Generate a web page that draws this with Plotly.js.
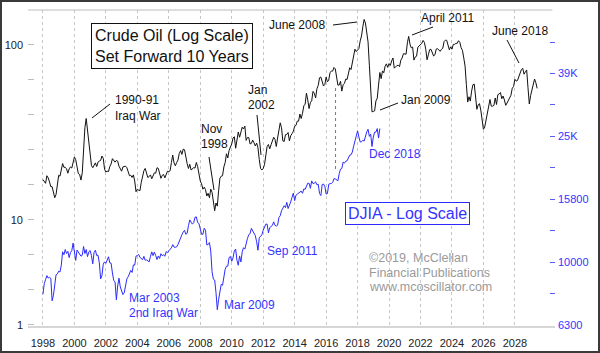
<!DOCTYPE html>
<html>
<head>
<meta charset="utf-8">
<script src="https://cdn.plot.ly/plotly-3.0.1.min.js"></script>
<style>
  html, body { margin: 0; padding: 0; background: #fff; }
  #wrap { position: relative; width: 600px; height: 353px; }
  #chart { width: 600px; height: 353px; }
  #frame { position: absolute; left: 0; top: 0; width: 600px; height: 353px; box-sizing: border-box; border: 2px solid #3a3a3a; pointer-events: none; }
</style>
</head>
<body>
<div id="wrap"><div id="chart"></div><div id="frame"></div></div>
<script>
// ---------------- DATA ----------------
// Crude oil (monthly, $/bbl), starting Jan 1988, plotted 10 years forward
const oilStartYear = 1988;
const oilShiftYears = 10;
const oilPrice = [
  17.0, 16.7, 16.2, 17.9, 17.4, 16.5, 15.5, 15.5, 14.5, 13.4, 14.0, 16.3, // 1988
  18.0, 17.8, 19.4, 21.0, 20.0, 20.0, 19.6, 18.5, 19.6, 20.1, 19.8, 21.1, // 1989
  22.9, 22.1, 20.4, 18.4, 18.2, 16.9, 18.6, 27.2, 33.7, 38.0, 32.3, 27.3, // 1990
  25.2, 20.5, 19.9, 20.8, 21.2, 20.2, 21.4, 21.7, 21.9, 23.2, 22.5, 19.5, // 1991
  18.8, 19.0, 18.9, 20.2, 20.9, 22.4, 21.8, 21.4, 21.9, 21.7, 20.3, 19.4, // 1992
  19.0, 20.1, 20.3, 20.3, 19.9, 19.1, 17.9, 18.0, 17.5, 18.1, 16.7, 14.5, // 1993
  15.0, 14.8, 14.7, 16.4, 17.9, 19.1, 19.7, 18.4, 17.5, 17.7, 18.1, 17.2, // 1994
  18.0, 18.6, 18.5, 19.9, 19.7, 18.5, 17.3, 18.0, 18.2, 17.4, 18.0, 19.0, // 1995
  18.9, 19.1, 21.3, 23.5, 21.2, 20.4, 21.3, 22.0, 24.0, 24.9, 23.7, 25.4, // 1996
  25.2, 22.2, 21.0, 19.7, 20.8, 19.3, 19.7, 19.9, 19.8, 21.3, 20.2, 18.3, // 1997
  16.7, 16.1, 15.0, 15.4, 14.9, 13.7, 14.2, 13.4, 15.0, 14.4, 12.9, 11.3, // 1998
  12.5, 12.0, 14.7, 17.3, 17.8, 17.9, 20.1, 21.3, 23.9, 22.6, 25.0, 26.1, // 1999
  27.2, 29.4, 29.9, 25.7, 28.8, 31.8, 29.7, 31.3, 33.9, 33.1, 34.4, 28.5, // 2000
  29.6, 29.6, 27.2, 27.4, 28.6, 27.6, 26.5, 27.5, 25.9, 22.2, 19.7, 19.3, // 2001
  19.7, 20.7, 24.4, 26.3, 27.0, 25.5, 26.9, 28.4, 29.7, 28.9, 26.3, 29.4, // 2002
  32.9, 35.9, 33.6, 28.3, 28.1, 30.7, 30.8, 31.6, 28.3, 30.3, 31.1, 32.1, // 2003
  34.3, 34.7, 36.7, 36.7, 40.3, 38.0, 40.7, 44.9, 45.9, 53.1, 48.5, 43.3, // 2004
  46.8, 48.0, 54.3, 53.0, 49.8, 56.3, 58.7, 65.0, 65.6, 62.4, 58.3, 59.4, // 2005
  65.5, 61.6, 62.9, 69.7, 70.9, 70.9, 74.4, 73.0, 63.8, 58.9, 59.1, 62.0, // 2006
  54.5, 59.3, 60.4, 63.9, 63.5, 67.5, 74.1, 72.4, 79.9, 86.2, 94.6, 91.7, // 2007
  93.0, 95.4, 105.5, 112.6, 127.0, 140.0, 133.4, 116.7, 104.1, 76.6, 57.3, 41.5, // 2008
  41.7, 42.0, 47.9, 49.6, 59.0, 69.6, 64.2, 71.1, 69.4, 75.7, 78.0, 74.5, // 2009
  78.3, 76.4, 81.2, 84.3, 73.7, 75.3, 76.3, 76.6, 75.2, 81.9, 84.3, 89.2, // 2010
  89.2, 88.6, 102.9, 112.0, 100.9, 96.3, 97.3, 82.0, 85.5, 86.3, 97.2, 98.6, // 2011
  100.3, 102.2, 106.2, 103.3, 94.7, 82.3, 87.9, 94.1, 94.5, 89.5, 86.5, 87.9, // 2012
  94.8, 95.3, 92.9, 92.0, 94.5, 95.8, 104.6, 106.6, 106.3, 100.5, 93.9, 97.6, // 2013
  94.6, 100.8, 100.8, 102.1, 102.2, 105.8, 103.6, 96.5, 93.2, 84.4, 75.8, 59.3, // 2014
  47.2, 50.6, 47.8, 54.5, 59.3, 59.8, 50.9, 42.9, 45.5, 46.2, 42.4, 37.2, // 2015
  33.0, 34.0, 37.5, 40.8, 46.7, 48.8, 44.7, 44.7, 45.2, 49.8, 45.7, 52.0, // 2016
  52.5, 53.5, 49.3, 51.1, 48.5, 45.2, 46.6, 48.0, 49.8, 51.6, 56.6, 57.9, // 2017
  63.7, 62.2, 62.7, 66.3, 70.0, 72.5, 73.5, 68.1, 70.2, 72.0, 57.0, 46.0, // 2018
  51.4, 55.0, 58.2, 63.9, 60.8, 56.5                                      // 2019
];

// DJIA monthly closes starting Jan 1998 (not shifted)
const djiaStartYear = 1998;
const djiaClose = [
  7907, 8546, 8800, 9063, 8900, 8952, 8883, 7539, 7843, 8592, 9117, 9181,         // 1998
  9359, 9307, 9786, 10789, 10560, 10971, 10655, 10829, 10337, 10730, 10878, 11497, // 1999
  10941, 10128, 10922, 10734, 10522, 10448, 10522, 11215, 10651, 10971, 10415, 10788, // 2000
  10887, 10495, 9879, 10735, 10912, 10502, 10523, 9950, 8848, 9075, 9852, 10022,  // 2001
  9920, 10106, 10404, 9946, 9925, 9243, 8737, 8664, 7592, 8397, 8896, 8342,       // 2002
  8054, 7891, 7992, 8480, 8850, 8985, 9234, 9416, 9275, 9801, 9782, 10454,        // 2003
  10488, 10584, 10358, 10226, 10188, 10435, 10140, 10174, 10080, 10027, 10428, 10783, // 2004
  10490, 10766, 10504, 10193, 10467, 10275, 10641, 10482, 10569, 10440, 10806, 10718, // 2005
  10865, 10993, 11109, 11367, 11168, 11150, 11186, 11381, 11679, 12081, 12222, 12463, // 2006
  12622, 12269, 12354, 13063, 13628, 13409, 13212, 13358, 13896, 13930, 13372, 13265, // 2007
  12650, 12266, 12263, 12820, 12638, 11350, 11378, 11544, 10851, 9325, 8829, 8776, // 2008
  8001, 7063, 7609, 8168, 8500, 8447, 9172, 9496, 9712, 9713, 10345, 10428,       // 2009
  10067, 10325, 10857, 11009, 10137, 9774, 10466, 10015, 10788, 11118, 11006, 11578, // 2010
  11892, 12226, 12320, 12811, 12570, 12414, 12143, 11614, 10913, 11955, 12046, 12218, // 2011
  12633, 12952, 13212, 13214, 12393, 12880, 13009, 13091, 13437, 13096, 13026, 13104, // 2012
  13861, 14054, 14579, 14840, 15116, 14910, 15500, 14810, 15130, 15546, 16086, 16577, // 2013
  15699, 16322, 16458, 16581, 16717, 16827, 16563, 17098, 17043, 17391, 17828, 17823, // 2014
  17165, 18133, 17776, 17841, 18011, 17620, 17690, 16528, 16285, 17664, 17720, 17425, // 2015
  16466, 16517, 17685, 17774, 17787, 17930, 18432, 18401, 18308, 18142, 19124, 19763, // 2016
  19864, 20812, 20663, 20941, 21009, 21350, 21891, 21948, 22405, 23377, 24272, 24719, // 2017
  26149, 25029, 24103, 24163, 24416, 24271, 25415, 25965, 26458, 25116, 25538, 23327, // 2018
  24999, 25916, 25929, 26593, 24815, 26600                                         // 2019
];

// Axis ticks
const xTickYears = [1998, 2000, 2002, 2004, 2006, 2008, 2010, 2012, 2014, 2016, 2018, 2020, 2022, 2024, 2026, 2028];
const oilTickExp  = [0.4, 0.6, 0.8, 1.0, 1.2, 1.4, 1.6, 1.8, 2.0];
const oilTickText = ["1", "", "", "10", "", "", "", "", "100"];
const djiaTickExp  = [3.8, 3.9, 4.0, 4.1, 4.2, 4.3, 4.4, 4.5, 4.6, 4.7, 4.8];
const djiaTickText = ["6300", "", "10000", "", "15800", "", "25K", "", "39K", "", ""];

// ---------------- CHART ----------------
const oilX = oilPrice.map((_, i) => oilStartYear + oilShiftYears + i / 12);
const djiaX = djiaClose.map((_, i) => djiaStartYear + i / 12);

const FONT = 'Liberation Sans, Arial, sans-serif';
const BLUE = '#2a2aff';
const BLUE_TXT = '#3434ff';

// plot area in pixels
const L = 28, R = 555, T = 10, B = 326;
const px = x => (x - L) / (R - L);
const py = y => (B - y) / (B - T);

function lbl(text, x, y, color, size, anchor) {
  return { text, xref: 'paper', yref: 'paper', x: px(x), y: py(y), xanchor: anchor || 'left', yanchor: 'middle',
    showarrow: false, align: 'left', font: { family: FONT, size: size || 12, color: color || '#111' } };
}
function seg(x0, y0, x1, y1, color, dash) {
  return { type: 'line', xref: 'paper', yref: 'paper', x0: px(x0), y0: py(y0), x1: px(x1), y1: py(y1),
    line: { color: color || '#111', width: 1, dash: dash || 'solid' } };
}

const traces = [
  { x: oilX, y: oilPrice, type: 'scatter', mode: 'lines', yaxis: 'y', line: { color: '#111', width: 1 }, hoverinfo: 'skip' },
  { x: djiaX, y: djiaClose, type: 'scatter', mode: 'lines', yaxis: 'y2', line: { color: BLUE, width: 1 }, hoverinfo: 'skip' }
];

const annotations = [
  { text: 'Crude Oil (Log Scale)<br>Set Forward 10 Years', xref: 'paper', yref: 'paper', x: px(171.5), y: py(46.5),
    xanchor: 'center', yanchor: 'middle', showarrow: false, align: 'left',
    font: { family: FONT, size: 16, color: '#111' }, bordercolor: '#111', borderwidth: 1, borderpad: 3, bgcolor: '#fff' },
  { text: 'DJIA - Log Scale', xref: 'paper', yref: 'paper', x: px(407.5), y: py(213),
    xanchor: 'center', yanchor: 'middle', showarrow: false,
    font: { family: FONT, size: 16, color: BLUE_TXT }, bordercolor: BLUE, borderwidth: 1, borderpad: 2, bgcolor: '#fff' },
  lbl('©2019, McClellan', 367, 258, '#9a9a9a', 12.5),
  lbl('Financial Publications', 367, 272.5, '#9a9a9a', 12.5),
  lbl('www.mcoscillator.com', 367, 287, '#9a9a9a', 12.5),
  lbl('1990-91', 113, 100),
  lbl('Iraq War', 113, 116),
  lbl('Nov', 199, 129),
  lbl('1998', 199, 144),
  lbl('Jan', 246, 90),
  lbl('2002', 246, 105),
  lbl('June 2008', 267, 25),
  lbl('April 2011', 419, 18),
  lbl('June 2018', 490, 31),
  lbl('Jan 2009', 399, 100),
  lbl('Dec 2018', 367, 154, BLUE_TXT),
  lbl('Mar 2003', 127, 298, BLUE_TXT),
  lbl('2nd Iraq War', 127, 313, BLUE_TXT),
  lbl('Mar 2009', 222, 305, BLUE_TXT),
  lbl('Sep 2011', 265, 251, BLUE_TXT)
];

const shapes = [
  // top frame line of the plot area
  { type: 'line', xref: 'paper', yref: 'paper', x0: 0, x1: 0.995, y0: 1, y1: 1, line: { color: '#bdbdbd', width: 1 } },
  // vertical dotted connector between the two series
  { type: 'line', xref: 'x', yref: 'paper', x0: 2016.6, x1: 2016.6, y0: py(88), y1: py(170), line: { color: '#777', width: 1, dash: 'dot' } },
  seg(92, 118, 110, 104),
  seg(209, 157, 214, 190),
  seg(257, 115, 261, 155),
  seg(333, 25, 357, 22),
  seg(412, 35, 433, 27),
  seg(507, 40, 519, 63),
  seg(380, 110, 398, 103)
];

const layout = {
  width: 600, height: 353,
  margin: { l: L, r: 600 - R, t: T, b: 353 - B },
  paper_bgcolor: '#fff', plot_bgcolor: '#fff',
  showlegend: false,
  xaxis: {
    range: [1997.05, 2030.55], tickmode: 'array', tickvals: xTickYears, ticktext: xTickYears.map(String),
    showgrid: true, gridcolor: '#c6c6c6', griddash: 'dot', gridwidth: 1,
    zeroline: false, showline: true, linecolor: '#d6d6d6', linewidth: 2, ticks: '',
    tickfont: { family: FONT, size: 11, color: '#222' }, ticklabelstandoff: 6
  },
  yaxis: {
    type: 'log', range: [0.394, 2.2], tickmode: 'array',
    tickvals: oilTickExp.map(e => Math.pow(10, e)), ticktext: oilTickText,
    ticks: 'inside', ticklen: 6, tickcolor: '#bbbbbb', tickwidth: 1,
    showgrid: false, zeroline: false, showline: false,
    tickfont: { family: FONT, size: 11, color: '#222' }, ticklabelstandoff: 4
  },
  yaxis2: {
    type: 'log', range: [3.797, 4.802], overlaying: 'y', side: 'right', tickmode: 'array',
    tickvals: djiaTickExp.map(e => Math.pow(10, e)), ticktext: djiaTickText,
    ticks: 'inside', ticklen: 5, tickcolor: '#5a5aff', tickwidth: 1,
    showgrid: false, zeroline: false, showline: false,
    tickfont: { family: FONT, size: 11, color: BLUE_TXT }, ticklabelstandoff: 2
  },
  annotations, shapes
};

Plotly.newPlot('chart', traces, layout, { staticPlot: true, displayModeBar: false });
</script>
</body>
</html>
